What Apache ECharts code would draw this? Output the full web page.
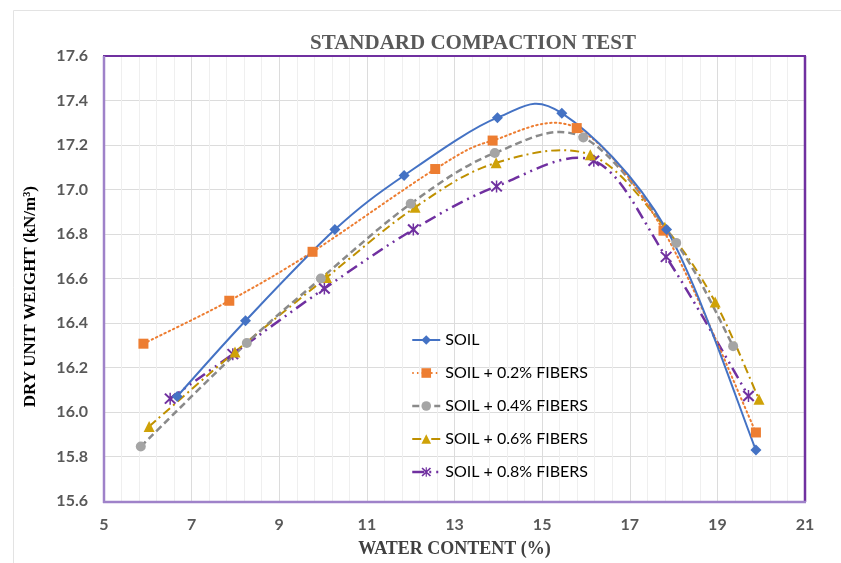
<!DOCTYPE html>
<html>
<head>
<meta charset="utf-8">
<script src="https://cdn.jsdelivr.net/npm/echarts@6/dist/echarts.min.js"></script>
<style>
  html, body { margin: 0; padding: 0; background: #ffffff; }
  #chart { width: 841px; height: 563px; }
</style>
</head>
<body>
<div id="chart"></div>
<script>
// Water content (%) and dry unit weight (kN/m3) for each mix
const soilW   = [6.67, 8.23, 10.27, 11.85, 13.98, 15.45, 17.84, 19.88];
const soilG   = [16.07, 16.41, 16.82, 17.063, 17.323, 17.343, 16.82, 15.829];
const fib02W  = [5.90, 7.86, 9.76, 12.56, 13.87, 15.79, 17.77, 19.88];
const fib02G  = [16.307, 16.50, 16.72, 17.092, 17.22, 17.276, 16.815, 15.908];
const fib04W  = [5.84, 8.26, 9.95, 12.0, 13.92, 15.94, 18.06, 19.36];
const fib04G  = [15.845, 16.31, 16.60, 16.936, 17.164, 17.234, 16.76, 16.296];
const fib06W  = [6.03, 7.99, 10.08, 12.1, 13.95, 16.1, 17.8, 18.95, 19.95];
const fib06G  = [15.935, 16.27, 16.605, 16.92, 17.12, 17.156, 16.83, 16.494, 16.057];
const fib08W  = [6.51, 7.94, 10.03, 12.06, 13.96, 16.18, 17.83, 19.71];
const fib08G  = [16.06, 16.26, 16.555, 16.82, 17.014, 17.129, 16.697, 16.072];

const seriesNames = ['SOIL', 'SOIL + 0.2% FIBERS', 'SOIL + 0.4% FIBERS', 'SOIL + 0.6% FIBERS', 'SOIL + 0.8% FIBERS'];
const xTicks = [5, 7, 9, 11, 13, 15, 17, 19, 21];
const yTicks = [15.6, 15.8, 16.0, 16.2, 16.4, 16.6, 16.8, 17.0, 17.2, 17.4, 17.6];

function pairs(xs, ys) { return xs.map((x, i) => [x, ys[i]]); }

// asterisk marker: an X crossed by a vertical bar
const asterisk = 'path://M-5.7,-4.3 L-4.3,-5.7 L5.7,4.3 L4.3,5.7 Z M4.3,-5.7 L5.7,-4.3 L-4.3,5.7 L-5.7,4.3 Z M-0.7,-6 L0.7,-6 L0.7,6 L-0.7,6 Z';

// per-mix look: marker, colours and line pattern
const looks = [
  { symbol: 'diamond',  size: 11, marker: '#4472C4', line: '#4472C4', width: 2,   dash: null },
  { symbol: 'rect',     size: 10, marker: '#ED7D31', line: '#ED7D31', width: 2,   dash: [1.5, 3.2] },
  { symbol: 'circle',   size: 10, marker: '#A5A5A5', line: '#8a8a8a', width: 2.5, dash: [7, 4] },
  { symbol: 'triangle', size: 11, marker: '#CFA208', line: '#BF9000', width: 2,   dash: [9, 4, 2, 4] },
  { symbol: asterisk,   size: 12, marker: '#7030A0', line: '#7030A0', width: 2.5, dash: [12, 5, 2, 5, 2, 5] }
];
const mixes = [
  [soilW, soilG], [fib02W, fib02G], [fib04W, fib04G], [fib06W, fib06G], [fib08W, fib08G]
];

// Smoothed curve through the measured points (cardinal spline, cubic Bezier segments),
// positioned with the chart's own axis scales.
function curveSeries(xs, ys, look, z) {
  return {
    type: 'custom',
    name: 'curve-' + z,
    silent: true,
    z: z,
    clip: true,
    data: pairs(xs, ys),
    renderItem: function (params, api) {
      if (params.dataIndex !== 0) return null;
      const p = xs.map((x, i) => api.coord([x, ys[i]]));
      const n = p.length;
      let d = 'M' + p[0][0] + ',' + p[0][1];
      for (let i = 0; i < n - 1; i++) {
        const a = p[i - 1] || p[i];
        const b = p[i];
        const c = p[i + 1];
        const e = p[i + 2] || p[i + 1];
        const c1x = b[0] + (c[0] - a[0]) / 6, c1y = b[1] + (c[1] - a[1]) / 6;
        const c2x = c[0] - (e[0] - b[0]) / 6, c2y = c[1] - (e[1] - b[1]) / 6;
        d += ' C' + c1x + ',' + c1y + ' ' + c2x + ',' + c2y + ' ' + c[0] + ',' + c[1];
      }
      return {
        type: 'path',
        shape: { pathData: d },
        style: {
          fill: 'none', stroke: look.line, lineWidth: look.width,
          lineDash: look.dash || null, lineCap: look.dash && look.dash[0] < 2 ? 'round' : 'butt'
        }
      };
    }
  };
}

const chart = echarts.init(document.getElementById('chart'), null, { renderer: 'canvas' });

const serif = '"Liberation Serif", "DejaVu Serif", serif';
const sans = 'Lato, "Open Sans", sans-serif';

const PL = 104, PT = 56, PR = 805, PB = 502;

const series = [];
mixes.forEach((m, k) => {
  series.push(curveSeries(m[0], m[1], looks[k], 2 + (4 - k)));
});
mixes.forEach((m, k) => {
  const lk = looks[k];
  series.push({
    name: seriesNames[k], type: 'line', data: pairs(m[0], m[1]),
    symbol: lk.symbol, symbolSize: lk.size, z: 10 + (4 - k),
    itemStyle: { color: lk.marker },
    lineStyle: { color: lk.line, width: lk.width, opacity: 0 }
  });
});

const option = {
  backgroundColor: '#ffffff',
  animation: false,
  title: {
    text: 'STANDARD COMPACTION TEST',
    left: 468,
    textAlign: 'center',
    top: 28,
    textStyle: { fontFamily: serif, fontWeight: 'bold', fontSize: 21, color: '#595959' }
  },
  graphic: [
    {
      type: 'rect', left: 11, top: 8, silent: true,
      shape: { width: 840, height: 560 },
      style: { fill: 'none', stroke: '#e3e3e3', lineWidth: 1 }
    },
    {
      type: 'text', left: 22, top: 186, rotation: Math.PI / 2, silent: true,
      style: {
        text: 'DRY UNIT WEIGHT (kN/m³)',
        font: 'bold 17px ' + serif,
        fill: '#000000'
      }
    },
    // plot frame
    { type: 'line', silent: true, z: 50, shape: { x1: PL - 1, y1: PT, x2: PR + 1, y2: PT },
      style: { stroke: '#7030A0', lineWidth: 2 } },
    { type: 'line', silent: true, z: 50, shape: { x1: PR, y1: PT, x2: PR, y2: PB },
      style: { stroke: '#7030A0', lineWidth: 2.5 } },
    { type: 'line', silent: true, z: 50, shape: { x1: PL, y1: PT, x2: PL, y2: PB + 1 },
      style: { stroke: '#9f82c9', lineWidth: 2.5 } },
    { type: 'line', silent: true, z: 50, shape: { x1: PL - 1, y1: PB, x2: PR + 1, y2: PB },
      style: { stroke: '#9f82c9', lineWidth: 2.5 } }
  ],
  grid: { left: PL, right: 841 - PR, top: PT, bottom: 563 - PB },
  legend: {
    orient: 'vertical',
    left: 406, top: 327,
    itemWidth: 28, itemHeight: 12, itemGap: 17,
    data: seriesNames.map((n, k) => ({
      name: n,
      lineStyle: { color: looks[k].line, width: looks[k].width, opacity: 1,
                   type: looks[k].dash || 'solid' }
    })),
    textStyle: { fontFamily: sans, fontSize: 16, color: '#000000' }
  },
  xAxis: {
    type: 'value', min: 5, max: 21, interval: 2,
    name: 'WATER CONTENT (%)', nameLocation: 'middle', nameGap: 39,
    nameTextStyle: { fontFamily: serif, fontWeight: 'bold', fontSize: 18, color: '#404040' },
    axisLine: { show: false },
    axisTick: { show: false },
    axisLabel: { margin: 16, fontFamily: sans, fontWeight: 'bold', fontSize: 16, color: '#595959',
                 formatter: v => xTicks.includes(v) ? String(v) : '' },
    splitLine: { show: true, lineStyle: { color: '#dcdcdc', width: 1 } },
    minorTick: { show: false, splitNumber: 5 },
    minorSplitLine: { show: true, lineStyle: { color: '#efefef', width: 1 } }
  },
  yAxis: {
    type: 'value', min: 15.6, max: 17.6, interval: 0.2,
    axisLine: { show: false },
    axisTick: { show: false },
    axisLabel: { margin: 16, fontFamily: sans, fontWeight: 'bold', fontSize: 16, color: '#595959',
                 formatter: v => yTicks.find(t => Math.abs(t - v) < 1e-6).toFixed(1) },
    splitLine: { show: true, lineStyle: { color: '#dcdcdc', width: 1 } }
  },
  series: series
};

chart.setOption(option);
</script>
</body>
</html>
